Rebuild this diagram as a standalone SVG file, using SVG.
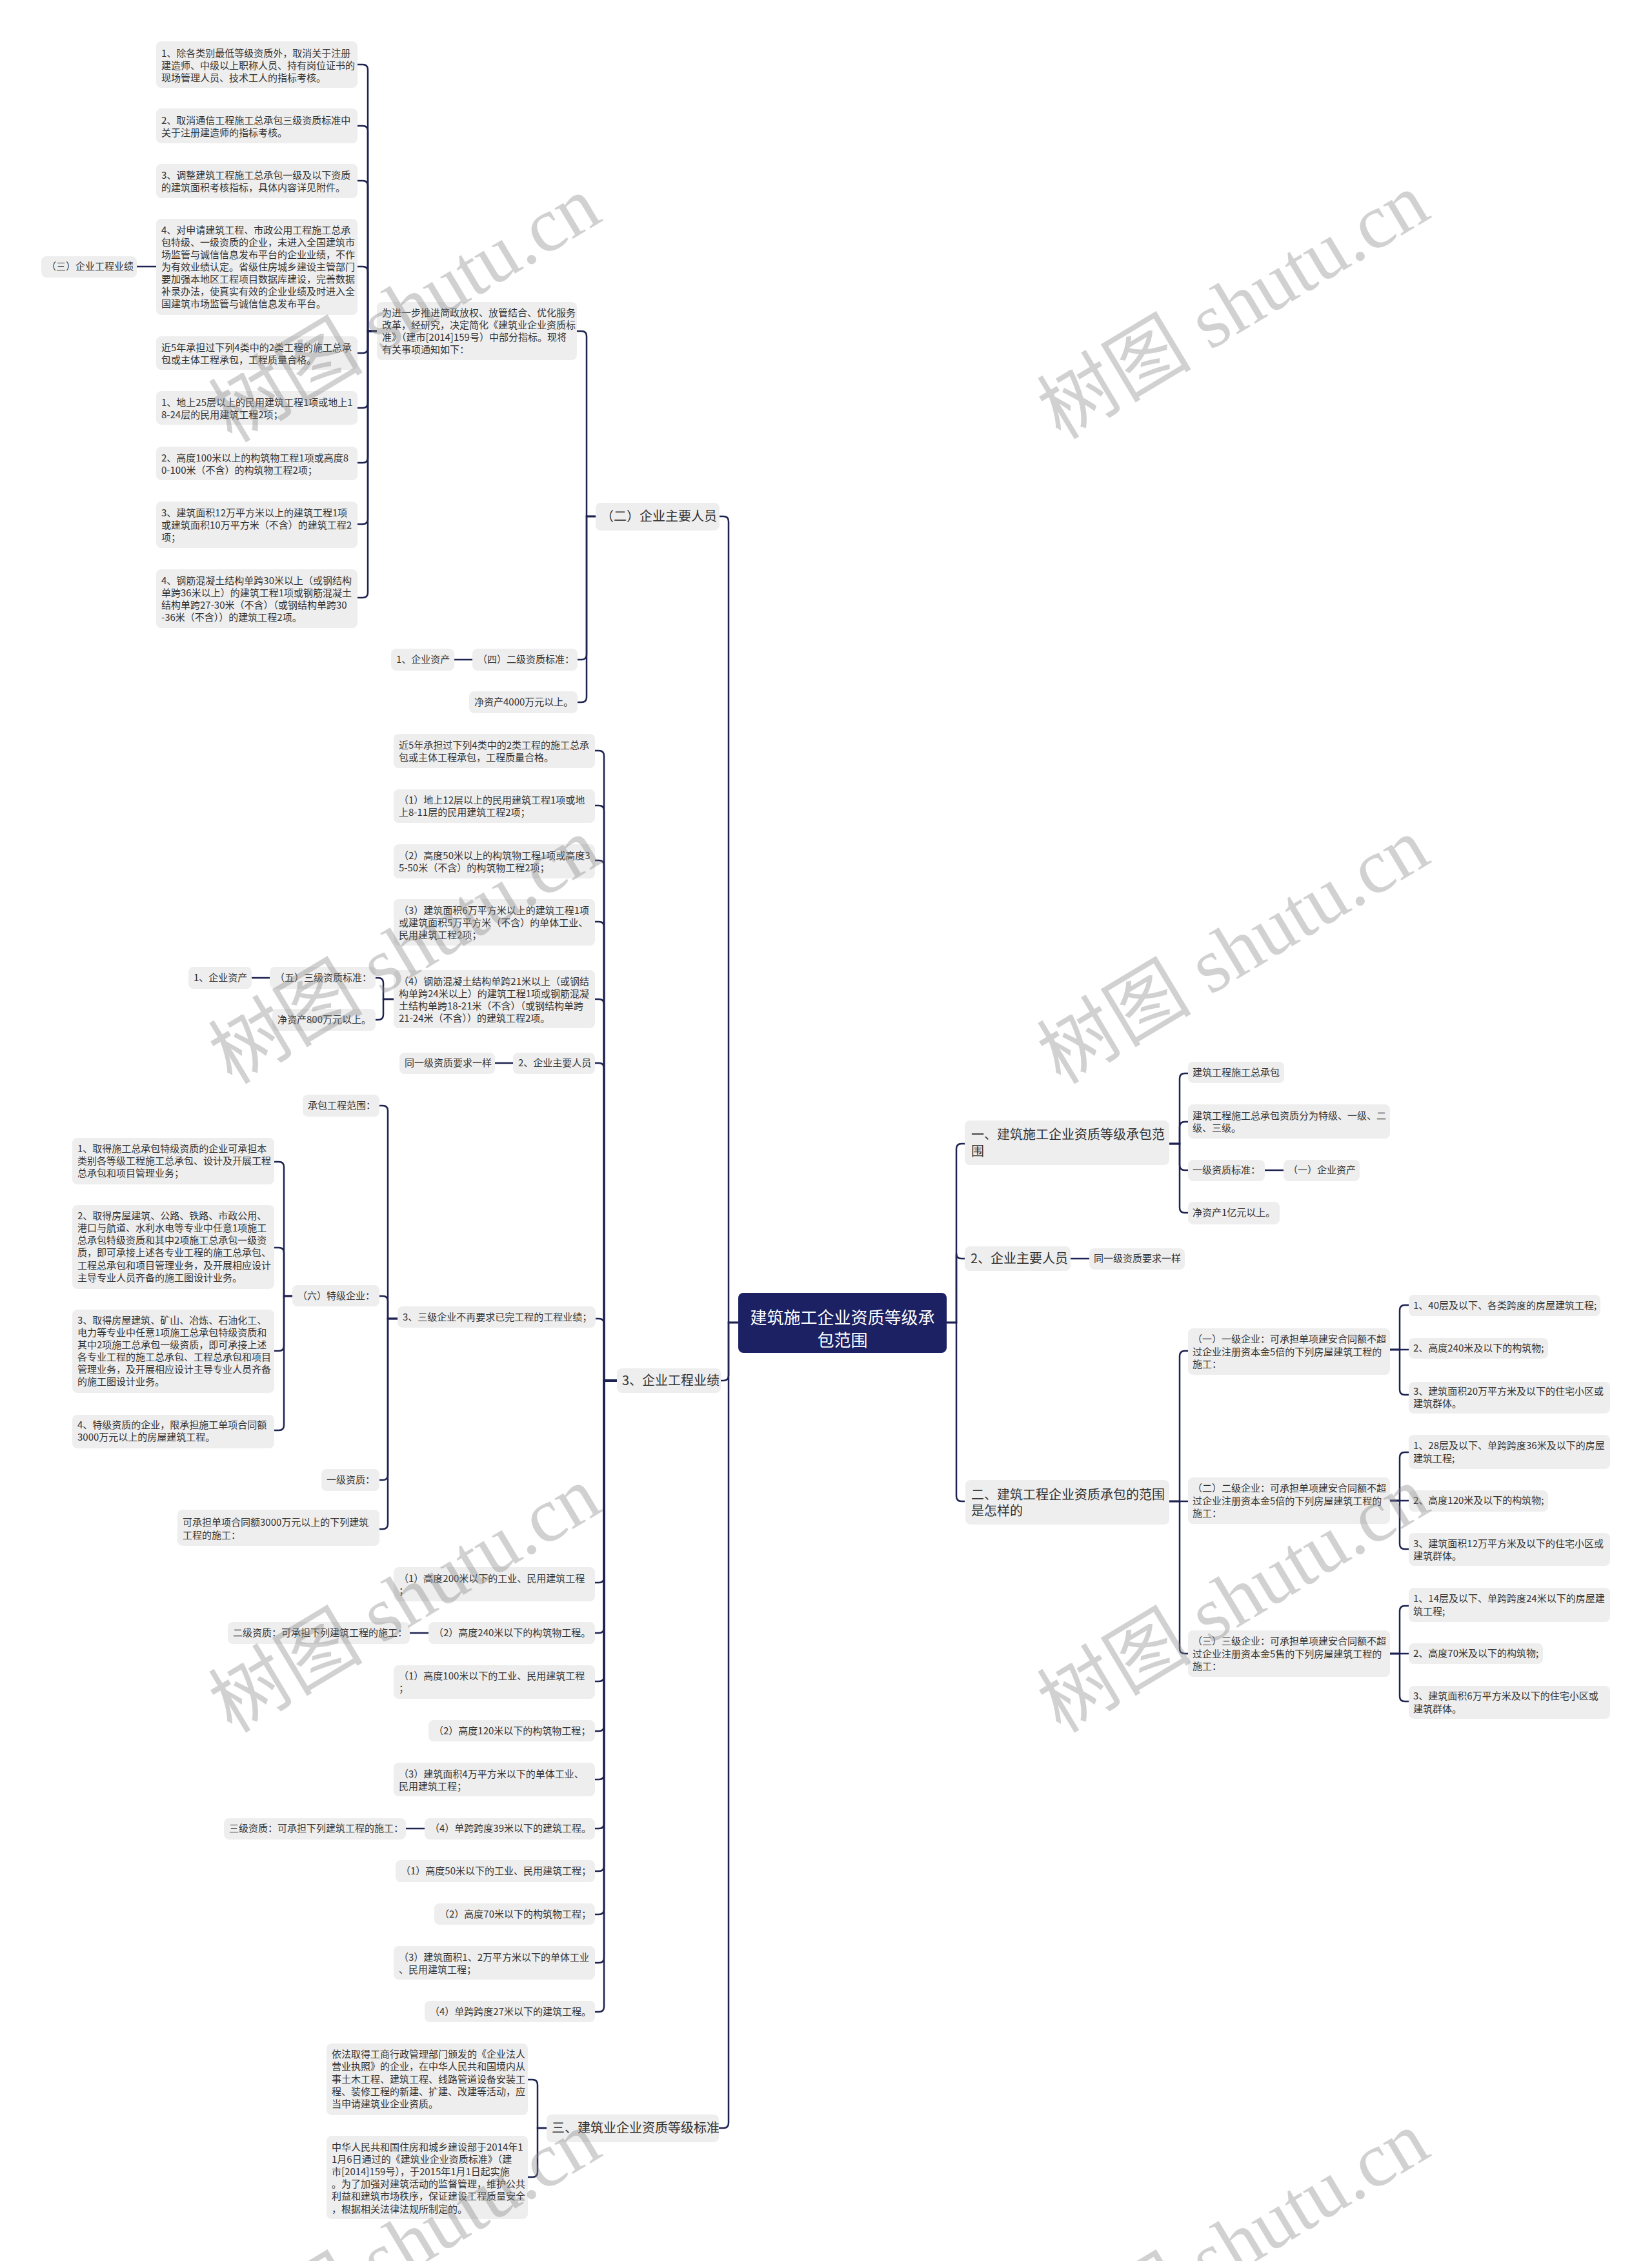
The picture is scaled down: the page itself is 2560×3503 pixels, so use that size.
<svg xmlns="http://www.w3.org/2000/svg" width="2560" height="3503" viewBox="0 0 2560 3503">
<style>
.b{fill:#eeeeee}
.t{font-family:"Noto Sans CJK SC","Liberation Sans",sans-serif;font-size:15px;fill:#333333}
.L{font-size:20px}
.c path{fill:none;stroke:#1e2250;stroke-width:2.5}
.wm{font-family:"Liberation Serif","Noto Sans CJK SC",serif;font-size:120px;fill:#888888;opacity:0.38}
</style>
<rect width="2560" height="3503" fill="#ffffff"/>
<g class="c" id="connectors">
<path d="M1144 2049 H1129 V808 Q1129 800 1121 800 H1115"/>
<path d="M1144 2049 H1129 V2131 Q1129 2139 1121 2139 H1117"/>
<path d="M1144 2049 H1129 V3289 Q1129 3297 1121 3297 H1114"/>
<path d="M923 800 H909 V521 Q909 513 901 513 H894"/>
<path d="M923 800 H909 V1014 Q909 1022 901 1022 H895"/>
<path d="M923 800 H909 V1080 Q909 1088 901 1088 H895"/>
<path d="M584 513 H570 V108 Q570 100 562 100 H554"/>
<path d="M584 513 H570 V203 Q570 195 562 195 H554"/>
<path d="M584 513 H570 V288 Q570 280 562 280 H554"/>
<path d="M584 513 H570 V421 Q570 413 562 413 H554"/>
<path d="M584 513 H570 V539 Q570 547 562 547 H554"/>
<path d="M584 513 H570 V624 Q570 632 562 632 H554"/>
<path d="M584 513 H570 V709 Q570 717 562 717 H554"/>
<path d="M584 513 H570 V804 Q570 812 562 812 H554"/>
<path d="M584 513 H570 V918 Q570 926 562 926 H554"/>
<path d="M242 413 H212"/>
<path d="M732 1022 H704"/>
<path d="M956 2139 H936 V1171 Q936 1163 928 1163 H922"/>
<path d="M956 2139 H936 V1256 Q936 1248 928 1248 H922"/>
<path d="M956 2139 H936 V1341 Q936 1333 928 1333 H922"/>
<path d="M956 2139 H936 V1436 Q936 1428 928 1428 H922"/>
<path d="M956 2139 H936 V1556 Q936 1548 928 1548 H922"/>
<path d="M956 2139 H936 V1655 Q936 1647 928 1647 H922"/>
<path d="M956 2139 H936 V2051 Q936 2043 928 2043 H922"/>
<path d="M956 2139 H936 V2444 Q936 2452 928 2452 H922"/>
<path d="M956 2139 H936 V2522 Q936 2530 928 2530 H922"/>
<path d="M956 2139 H936 V2597 Q936 2605 928 2605 H922"/>
<path d="M956 2139 H936 V2674 Q936 2682 928 2682 H922"/>
<path d="M956 2139 H936 V2749 Q936 2757 928 2757 H922"/>
<path d="M956 2139 H936 V2825 Q936 2833 928 2833 H922"/>
<path d="M956 2139 H936 V2891 Q936 2899 928 2899 H922"/>
<path d="M956 2139 H936 V2958 Q936 2966 928 2966 H922"/>
<path d="M956 2139 H936 V3033 Q936 3041 928 3041 H922"/>
<path d="M956 2139 H936 V3109 Q936 3117 928 3117 H922"/>
<path d="M610 1548 H594 V1523 Q594 1515 586 1515 H582"/>
<path d="M610 1548 H594 V1572 Q594 1580 586 1580 H582"/>
<path d="M418 1515 H390"/>
<path d="M795 1647 H767"/>
<path d="M616 2043 H601 V1721 Q601 1713 593 1713 H588"/>
<path d="M616 2043 H601 V2016 Q601 2008 593 2008 H588"/>
<path d="M616 2043 H601 V2285 Q601 2293 593 2293 H588"/>
<path d="M616 2043 H601 V2361 Q601 2369 593 2369 H588"/>
<path d="M453 2008 H440 V1808 Q440 1800 432 1800 H425"/>
<path d="M453 2008 H440 V1941 Q440 1933 432 1933 H425"/>
<path d="M453 2008 H440 V2085 Q440 2093 432 2093 H425"/>
<path d="M453 2008 H440 V2208 Q440 2216 432 2216 H425"/>
<path d="M664 2530 H635"/>
<path d="M658 2833 H629"/>
<path d="M847 3297 H833 V3230 Q833 3222 825 3222 H818"/>
<path d="M847 3297 H833 V3365 Q833 3373 825 3373 H818"/>
<path d="M1467 2049 H1482 V1780 Q1482 1772 1490 1772 H1495"/>
<path d="M1467 2049 H1482 V1942 Q1482 1950 1490 1950 H1495"/>
<path d="M1467 2049 H1482 V2318 Q1482 2326 1490 2326 H1495"/>
<path d="M1812 1772 H1828 V1671 Q1828 1663 1836 1663 H1841"/>
<path d="M1812 1772 H1828 V1746 Q1828 1738 1836 1738 H1841"/>
<path d="M1812 1772 H1828 V1805 Q1828 1813 1836 1813 H1841"/>
<path d="M1812 1772 H1828 V1871 Q1828 1879 1836 1879 H1841"/>
<path d="M1960 1813 H1989"/>
<path d="M1659 1950 H1688"/>
<path d="M1812 2326 H1828 V2101 Q1828 2093 1836 2093 H1841"/>
<path d="M1812 2326 H1841"/>
<path d="M1812 2326 H1828 V2554 Q1828 2562 1836 2562 H1841"/>
<path d="M2154 2091 H2169 V2030 Q2169 2022 2177 2022 H2183"/>
<path d="M2154 2091 H2183"/>
<path d="M2154 2091 H2169 V2153 Q2169 2161 2177 2161 H2183"/>
<path d="M2154 2325 H2169 V2258 Q2169 2250 2177 2250 H2183"/>
<path d="M2154 2325 H2183"/>
<path d="M2154 2325 H2169 V2392 Q2169 2400 2177 2400 H2183"/>
<path d="M2154 2562 H2169 V2496 Q2169 2488 2177 2488 H2183"/>
<path d="M2154 2562 H2183"/>
<path d="M2154 2562 H2169 V2628 Q2169 2636 2177 2636 H2183"/>
</g>

<g id="root">
<rect x="1144" y="2003" width="323" height="93" rx="8" fill="#1c2163"/>
<text x="1305.5" y="2051" text-anchor="middle" style="font-family:'Noto Sans CJK SC','Liberation Sans',sans-serif;font-size:26px;fill:#ffffff">建筑施工企业资质等级承</text>
<text x="1305.5" y="2086" text-anchor="middle" style="font-family:'Noto Sans CJK SC','Liberation Sans',sans-serif;font-size:26px;fill:#ffffff">包范围</text>
</g>

<g id="n-er-renyuan"><rect class="b" x="923" y="779" width="192" height="43" rx="8"/><text class="t L" x="931" y="807">（二）企业主要人员</text></g>
<g id="n-jinyibu"><rect class="b" x="584" y="468" width="310" height="90" rx="8"/>
<text class="t" x="592"><tspan x="592" y="490">为进一步推进简政放权、放管结合、优化服务</tspan><tspan x="592" y="509">改革，经研究，决定简化《建筑业企业资质标</tspan><tspan x="592" y="528">准》（建市[2014]159号）中部分指标。现将</tspan><tspan x="592" y="547">有关事项通知如下：</tspan></text></g>
<g id="n-a1"><rect class="b" x="242" y="64" width="312" height="72" rx="8"/>
<text class="t"><tspan x="250" y="88">1、除各类别最低等级资质外，取消关于注册</tspan><tspan x="250" y="107">建造师、中级以上职称人员、持有岗位证书的</tspan><tspan x="250" y="126">现场管理人员、技术工人的指标考核。</tspan></text></g>
<g id="n-a2"><rect class="b" x="242" y="168" width="312" height="54" rx="8"/>
<text class="t"><tspan x="250" y="192">2、取消通信工程施工总承包三级资质标准中</tspan><tspan x="250" y="211">关于注册建造师的指标考核。</tspan></text></g>
<g id="n-a3"><rect class="b" x="242" y="254" width="312" height="53" rx="8"/>
<text class="t"><tspan x="250" y="277">3、调整建筑工程施工总承包一级及以下资质</tspan><tspan x="250" y="296">的建筑面积考核指标，具体内容详见附件。</tspan></text></g>
<g id="n-a4"><rect class="b" x="242" y="339" width="312" height="149" rx="8"/>
<text class="t"><tspan x="250" y="362">4、对申请建筑工程、市政公用工程施工总承</tspan><tspan x="250" y="381">包特级、一级资质的企业，未进入全国建筑市</tspan><tspan x="250" y="400">场监管与诚信信息发布平台的企业业绩，不作</tspan><tspan x="250" y="419">为有效业绩认定。省级住房城乡建设主管部门</tspan><tspan x="250" y="438">要加强本地区工程项目数据库建设，完善数据</tspan><tspan x="250" y="457">补录办法，使真实有效的企业业绩及时进入全</tspan><tspan x="250" y="476">国建筑市场监管与诚信信息发布平台。</tspan></text></g>
<g id="n-san-yeji"><rect class="b" x="64" y="397" width="148" height="33" rx="8"/><text class="t" x="72" y="418">（三）企业工程业绩</text></g>
<g id="n-a5"><rect class="b" x="242" y="521" width="312" height="52" rx="8"/>
<text class="t"><tspan x="250" y="544">近5年承担过下列4类中的2类工程的施工总承</tspan><tspan x="250" y="563">包或主体工程承包，工程质量合格。</tspan></text></g>
<g id="n-a6"><rect class="b" x="242" y="606" width="312" height="52" rx="8"/>
<text class="t"><tspan x="250" y="629">1、地上25层以上的民用建筑工程1项或地上1</tspan><tspan x="250" y="648">8-24层的民用建筑工程2项；</tspan></text></g>
<g id="n-a7"><rect class="b" x="242" y="692" width="312" height="52" rx="8"/>
<text class="t"><tspan x="250" y="715">2、高度100米以上的构筑物工程1项或高度8</tspan><tspan x="250" y="734">0-100米（不含）的构筑物工程2项；</tspan></text></g>
<g id="n-a8"><rect class="b" x="242" y="777" width="312" height="72" rx="8"/>
<text class="t"><tspan x="250" y="800">3、建筑面积12万平方米以上的建筑工程1项</tspan><tspan x="250" y="819">或建筑面积10万平方米（不含）的建筑工程2</tspan><tspan x="250" y="838">项；</tspan></text></g>
<g id="n-a9"><rect class="b" x="242" y="882" width="312" height="91" rx="8"/>
<text class="t"><tspan x="250" y="905">4、钢筋混凝土结构单跨30米以上（或钢结构</tspan><tspan x="250" y="924">单跨36米以上）的建筑工程1项或钢筋混凝土</tspan><tspan x="250" y="943">结构单跨27-30米（不含）（或钢结构单跨30</tspan><tspan x="250" y="962">-36米（不含））的建筑工程2项。</tspan></text></g>
<g id="n-si"><rect class="b" x="732" y="1005" width="163" height="34" rx="8"/><text class="t" x="740" y="1027">（四）二级资质标准：</text></g>
<g id="n-si-zichan"><rect class="b" x="606" y="1005" width="98" height="34" rx="8"/><text class="t" x="614" y="1027">1、企业资产</text></g>
<g id="n-4000"><rect class="b" x="727" y="1071" width="168" height="34" rx="8"/><text class="t" x="735" y="1093">净资产4000万元以上。</text></g>

<g id="n-3-yeji"><rect class="b" x="956" y="2120" width="161" height="38" rx="8"/><text class="t L" x="964" y="2146">3、企业工程业绩</text></g>
<g id="n-b1"><rect class="b" x="610" y="1137" width="312" height="53" rx="8"/>
<text class="t"><tspan x="618" y="1160">近5年承担过下列4类中的2类工程的施工总承</tspan><tspan x="618" y="1179">包或主体工程承包，工程质量合格。</tspan></text></g>
<g id="n-b2"><rect class="b" x="610" y="1223" width="312" height="52" rx="8"/>
<text class="t"><tspan x="618" y="1245">（1）地上12层以上的民用建筑工程1项或地</tspan><tspan x="618" y="1264">上8-11层的民用建筑工程2项；</tspan></text></g>
<g id="n-b3"><rect class="b" x="610" y="1308" width="312" height="53" rx="8"/>
<text class="t"><tspan x="618" y="1331">（2）高度50米以上的构筑物工程1项或高度3</tspan><tspan x="618" y="1350">5-50米（不含）的构筑物工程2项；</tspan></text></g>
<g id="n-b4"><rect class="b" x="610" y="1393" width="312" height="72" rx="8"/>
<text class="t"><tspan x="618" y="1416">（3）建筑面积6万平方米以上的建筑工程1项</tspan><tspan x="618" y="1435">或建筑面积5万平方米（不含）的单体工业、</tspan><tspan x="618" y="1454">民用建筑工程2项；</tspan></text></g>
<g id="n-b5"><rect class="b" x="610" y="1503" width="312" height="90" rx="8"/>
<text class="t"><tspan x="618" y="1526">（4）钢筋混凝土结构单跨21米以上（或钢结</tspan><tspan x="618" y="1545">构单跨24米以上）的建筑工程1项或钢筋混凝</tspan><tspan x="618" y="1564">土结构单跨18-21米（不含）（或钢结构单跨</tspan><tspan x="618" y="1583">21-24米（不含））的建筑工程2项。</tspan></text></g>
<g id="n-wu"><rect class="b" x="418" y="1498" width="164" height="34" rx="8"/><text class="t" x="426" y="1520">（五）三级资质标准：</text></g>
<g id="n-wu-zichan"><rect class="b" x="292" y="1498" width="98" height="34" rx="8"/><text class="t" x="300" y="1520">1、企业资产</text></g>
<g id="n-800"><rect class="b" x="422" y="1563" width="160" height="34" rx="8"/><text class="t" x="430" y="1585">净资产800万元以上。</text></g>
<g id="n-b6"><rect class="b" x="795" y="1631" width="127" height="33" rx="8"/><text class="t" x="803" y="1652">2、企业主要人员</text></g>
<g id="n-b6a"><rect class="b" x="619" y="1631" width="148" height="33" rx="8"/><text class="t" x="627" y="1652">同一级资质要求一样</text></g>
<g id="n-b7"><rect class="b" x="616" y="2024" width="307" height="33" rx="8"/><text class="t" x="624" y="2046">3、三级企业不再要求已完工程的工程业绩；</text></g>
<g id="n-fanwei"><rect class="b" x="469" y="1696" width="119" height="34" rx="8"/><text class="t" x="477" y="1718">承包工程范围：</text></g>
<g id="n-liu"><rect class="b" x="453" y="1991" width="135" height="33" rx="8"/><text class="t" x="461" y="2013">（六）特级企业：</text></g>
<g id="n-c1"><rect class="b" x="112" y="1763" width="313" height="72" rx="8"/>
<text class="t"><tspan x="120" y="1785">1、取得施工总承包特级资质的企业可承担本</tspan><tspan x="120" y="1804">类别各等级工程施工总承包、设计及开展工程</tspan><tspan x="120" y="1823">总承包和项目管理业务；</tspan></text></g>
<g id="n-c2"><rect class="b" x="112" y="1867" width="313" height="130" rx="8"/>
<text class="t"><tspan x="120" y="1889">2、取得房屋建筑、公路、铁路、市政公用、</tspan><tspan x="120" y="1908">港口与航道、水利水电等专业中任意1项施工</tspan><tspan x="120" y="1927">总承包特级资质和其中2项施工总承包一级资</tspan><tspan x="120" y="1946">质，即可承接上述各专业工程的施工总承包、</tspan><tspan x="120" y="1966">工程总承包和项目管理业务，及开展相应设计</tspan><tspan x="120" y="1985">主导专业人员齐备的施工图设计业务。</tspan></text></g>
<g id="n-c3"><rect class="b" x="112" y="2029" width="313" height="129" rx="8"/>
<text class="t"><tspan x="120" y="2051">3、取得房屋建筑、矿山、冶炼、石油化工、</tspan><tspan x="120" y="2070">电力等专业中任意1项施工总承包特级资质和</tspan><tspan x="120" y="2089">其中2项施工总承包一级资质，即可承接上述</tspan><tspan x="120" y="2108">各专业工程的施工总承包、工程总承包和项目</tspan><tspan x="120" y="2127">管理业务，及开展相应设计主导专业人员齐备</tspan><tspan x="120" y="2146">的施工图设计业务。</tspan></text></g>
<g id="n-c4"><rect class="b" x="112" y="2192" width="313" height="52" rx="8"/>
<text class="t"><tspan x="120" y="2213">4、特级资质的企业，限承担施工单项合同额</tspan><tspan x="120" y="2232">3000万元以上的房屋建筑工程。</tspan></text></g>
<g id="n-yiji"><rect class="b" x="498" y="2276" width="90" height="34" rx="8"/><text class="t" x="506" y="2298">一级资质：</text></g>
<g id="n-3000"><rect class="b" x="275" y="2339" width="313" height="56" rx="8"/>
<text class="t"><tspan x="283" y="2364">可承担单项合同额3000万元以上的下列建筑</tspan><tspan x="283" y="2384">工程的施工：</tspan></text></g>
<g id="n-d1"><rect class="b" x="610" y="2428" width="312" height="53" rx="8"/>
<text class="t"><tspan x="618" y="2451">（1）高度200米以下的工业、民用建筑工程</tspan><tspan x="618" y="2470">；</tspan></text></g>
<g id="n-d2"><rect class="b" x="664" y="2513" width="258" height="34" rx="8"/><text class="t" x="672" y="2535">（2）高度240米以下的构筑物工程。</text></g>
<g id="n-erji"><rect class="b" x="353" y="2513" width="282" height="34" rx="8"/><text class="t" x="361" y="2535">二级资质：可承担下列建筑工程的施工：</text></g>
<g id="n-d3"><rect class="b" x="610" y="2580" width="312" height="52" rx="8"/>
<text class="t"><tspan x="618" y="2602">（1）高度100米以下的工业、民用建筑工程</tspan><tspan x="618" y="2621">；</tspan></text></g>
<g id="n-d4"><rect class="b" x="664" y="2665" width="258" height="33" rx="8"/><text class="t" x="672" y="2687">（2）高度120米以下的构筑物工程；</text></g>
<g id="n-d5"><rect class="b" x="610" y="2731" width="312" height="52" rx="8"/>
<text class="t"><tspan x="618" y="2754">（3）建筑面积4万平方米以下的单体工业、</tspan><tspan x="618" y="2773">民用建筑工程；</tspan></text></g>
<g id="n-d6"><rect class="b" x="658" y="2817" width="264" height="33" rx="8"/><text class="t" x="666" y="2838">（4）单跨跨度39米以下的建筑工程。</text></g>
<g id="n-sanji"><rect class="b" x="347" y="2817" width="282" height="33" rx="8"/><text class="t" x="355" y="2838">三级资质：可承担下列建筑工程的施工：</text></g>
<g id="n-d7"><rect class="b" x="613" y="2882" width="309" height="34" rx="8"/><text class="t" x="621" y="2904">（1）高度50米以下的工业、民用建筑工程；</text></g>
<g id="n-d8"><rect class="b" x="673" y="2949" width="249" height="33" rx="8"/><text class="t" x="681" y="2971">（2）高度70米以下的构筑物工程；</text></g>
<g id="n-d9"><rect class="b" x="610" y="3015" width="312" height="52" rx="8"/>
<text class="t"><tspan x="618" y="3038">（3）建筑面积1、2万平方米以下的单体工业</tspan><tspan x="618" y="3057">、民用建筑工程；</tspan></text></g>
<g id="n-d10"><rect class="b" x="658" y="3100" width="264" height="33" rx="8"/><text class="t" x="666" y="3122">（4）单跨跨度27米以下的建筑工程。</text></g>

<g id="n-san-biaozhun"><rect class="b" x="847" y="3276" width="267" height="43" rx="8"/><text class="t L" x="855" y="3304">三、建筑业企业资质等级标准</text></g>
<g id="n-yifa"><rect class="b" x="506" y="3166" width="312" height="111" rx="8"/>
<text class="t"><tspan x="514" y="3188">依法取得工商行政管理部门颁发的《企业法人</tspan><tspan x="514" y="3207">营业执照》的企业，在中华人民共和国境内从</tspan><tspan x="514" y="3227">事土木工程、建筑工程、线路管道设备安装工</tspan><tspan x="514" y="3246">程、装修工程的新建、扩建、改建等活动，应</tspan><tspan x="514" y="3265">当申请建筑业企业资质。</tspan></text></g>
<g id="n-zhonghua"><rect class="b" x="506" y="3309" width="312" height="129" rx="8"/>
<text class="t"><tspan x="514" y="3332">中华人民共和国住房和城乡建设部于2014年1</tspan><tspan x="514" y="3351">1月6日通过的《建筑业企业资质标准》（建</tspan><tspan x="514" y="3370">市[2014]159号），于2015年1月1日起实施</tspan><tspan x="514" y="3389">。为了加强对建筑活动的监督管理，维护公共</tspan><tspan x="514" y="3408">利益和建筑市场秩序，保证建设工程质量安全</tspan><tspan x="514" y="3428">，根据相关法律法规所制定的。</tspan></text></g>

<g id="n-yi"><rect class="b" x="1495" y="1736" width="317" height="69" rx="8"/>
<text class="t L"><tspan x="1505" y="1765">一、建筑施工企业资质等级承包范</tspan><tspan x="1505" y="1791">围</tspan></text></g>
<g id="n-r1"><rect class="b" x="1841" y="1645" width="149" height="33" rx="8"/><text class="t" x="1848" y="1667">建筑工程施工总承包</text></g>
<g id="n-r2"><rect class="b" x="1841" y="1711" width="313" height="53" rx="8"/>
<text class="t"><tspan x="1848" y="1734">建筑工程施工总承包资质分为特级、一级、二</tspan><tspan x="1848" y="1753">级、三级。</tspan></text></g>
<g id="n-r3"><rect class="b" x="1841" y="1797" width="119" height="33" rx="8"/><text class="t" x="1848" y="1818">一级资质标准：</text></g>
<g id="n-r3a"><rect class="b" x="1989" y="1797" width="118" height="33" rx="8"/><text class="t" x="1996" y="1818">（一）企业资产</text></g>
<g id="n-r4"><rect class="b" x="1841" y="1862" width="142" height="35" rx="8"/><text class="t" x="1848" y="1884">净资产1亿元以上。</text></g>
<g id="n-r-renyuan"><rect class="b" x="1495" y="1931" width="164" height="38" rx="8"/><text class="t L" x="1504" y="1957">2、企业主要人员</text></g>
<g id="n-r-renyuan-a"><rect class="b" x="1688" y="1934" width="148" height="33" rx="8"/><text class="t" x="1695" y="1955">同一级资质要求一样</text></g>
<g id="n-er"><rect class="b" x="1496" y="2293" width="316" height="69" rx="8"/>
<text class="t L"><tspan x="1505" y="2323">二、建筑工程企业资质承包的范围</tspan><tspan x="1505" y="2348">是怎样的</tspan></text></g>
<g id="n-e1"><rect class="b" x="1841" y="2058" width="313" height="72" rx="8"/>
<text class="t"><tspan x="1848" y="2080">（一）一级企业：可承担单项建安合同额不超</tspan><tspan x="1848" y="2100">过企业注册资本金5倍的下列房屋建筑工程的</tspan><tspan x="1848" y="2119">施工：</tspan></text></g>
<g id="n-e2"><rect class="b" x="1841" y="2289" width="313" height="72" rx="8"/>
<text class="t"><tspan x="1848" y="2311">（二）二级企业：可承担单项建安合同额不超</tspan><tspan x="1848" y="2331">过企业注册资本金5倍的下列房屋建筑工程的</tspan><tspan x="1848" y="2350">施工：</tspan></text></g>
<g id="n-e3"><rect class="b" x="1841" y="2526" width="313" height="72" rx="8"/>
<text class="t"><tspan x="1848" y="2548">（三）三级企业：可承担单项建安合同额不超</tspan><tspan x="1848" y="2568">过企业注册资本金5售的下列房屋建筑工程的</tspan><tspan x="1848" y="2587">施工：</tspan></text></g>
<g id="n-f1"><rect class="b" x="2183" y="2006" width="297" height="33" rx="8"/><text class="t" x="2190" y="2028">1、40层及以下、各类跨度的房屋建筑工程;</text></g>
<g id="n-f2"><rect class="b" x="2183" y="2073" width="216" height="32" rx="8"/><text class="t" x="2190" y="2094">2、高度240米及以下的构筑物;</text></g>
<g id="n-f3"><rect class="b" x="2183" y="2141" width="312" height="49" rx="8"/>
<text class="t"><tspan x="2190" y="2161">3、建筑面积20万平方米及以下的住宅小区或</tspan><tspan x="2190" y="2180">建筑群体。</tspan></text></g>
<g id="n-g1"><rect class="b" x="2183" y="2223" width="312" height="53" rx="8"/>
<text class="t"><tspan x="2190" y="2245">1、28层及以下、单跨跨度36米及以下的房屋</tspan><tspan x="2190" y="2265">建筑工程;</tspan></text></g>
<g id="n-g2"><rect class="b" x="2183" y="2309" width="216" height="33" rx="8"/><text class="t" x="2190" y="2330">2、高度120米及以下的构筑物;</text></g>
<g id="n-g3"><rect class="b" x="2183" y="2375" width="312" height="51" rx="8"/>
<text class="t"><tspan x="2190" y="2397">3、建筑面积12万平方米及以下的住宅小区或</tspan><tspan x="2190" y="2416">建筑群体。</tspan></text></g>
<g id="n-h1"><rect class="b" x="2183" y="2460" width="312" height="53" rx="8"/>
<text class="t"><tspan x="2190" y="2482">1、14层及以下、单跨跨度24米以下的房屋建</tspan><tspan x="2190" y="2502">筑工程;</tspan></text></g>
<g id="n-h2"><rect class="b" x="2183" y="2546" width="208" height="32" rx="8"/><text class="t" x="2190" y="2567">2、高度70米及以下的构筑物;</text></g>
<g id="n-h3"><rect class="b" x="2183" y="2612" width="312" height="51" rx="8"/>
<text class="t"><tspan x="2190" y="2633">3、建筑面积6万平方米及以下的住宅小区或</tspan><tspan x="2190" y="2653">建筑群体。</tspan></text></g>

<g id="watermarks">
<text class="wm" x="648" y="514" text-anchor="middle" transform="rotate(-31 648 514)">树图 shutu.cn</text>
<text class="wm" x="1932" y="509" text-anchor="middle" transform="rotate(-31 1932 509)">树图 shutu.cn</text>
<text class="wm" x="648" y="1508" text-anchor="middle" transform="rotate(-31 648 1508)">树图 shutu.cn</text>
<text class="wm" x="1932" y="1508" text-anchor="middle" transform="rotate(-31 1932 1508)">树图 shutu.cn</text>
<text class="wm" x="648" y="2513" text-anchor="middle" transform="rotate(-31 648 2513)">树图 shutu.cn</text>
<text class="wm" x="1932" y="2513" text-anchor="middle" transform="rotate(-31 1932 2513)">树图 shutu.cn</text>
<text class="wm" x="648" y="3512" text-anchor="middle" transform="rotate(-31 648 3512)">树图 shutu.cn</text>
<text class="wm" x="1932" y="3512" text-anchor="middle" transform="rotate(-31 1932 3512)">树图 shutu.cn</text>
</g>
</svg>
